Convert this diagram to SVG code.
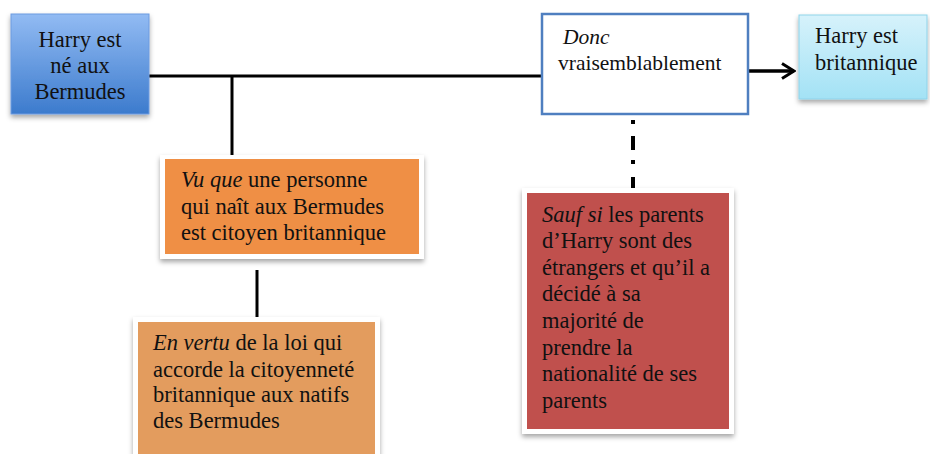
<svg xmlns="http://www.w3.org/2000/svg" width="930" height="454" viewBox="0 0 930 454">
<defs>
<linearGradient id="gBlue" x1="0" y1="0" x2="0" y2="1"><stop offset="0" stop-color="#92bbf3"/><stop offset="1" stop-color="#3c7bcd"/></linearGradient>
<linearGradient id="gCyan" x1="0" y1="0" x2="0" y2="1"><stop offset="0" stop-color="#d6f2fb"/><stop offset="1" stop-color="#a3e2f5"/></linearGradient>
<filter id="sh" x="-10%" y="-10%" width="130%" height="140%"><feDropShadow dx="0" dy="3" stdDeviation="2.5" flood-color="#000" flood-opacity="0.35"/></filter>
<marker id="arr" viewBox="0 0 16 18" refX="14" refY="9" markerWidth="16" markerHeight="18" markerUnits="userSpaceOnUse" orient="auto"><path d="M2,1.5 L14,9 L2,16.5" fill="none" stroke="#000" stroke-width="3" stroke-linejoin="miter"/></marker>
<style>
text{font-family:"Liberation Serif","Times New Roman",serif;font-size:22.5px;fill:#111}
.i{font-style:italic}
.c{text-anchor:middle}
.frame{fill:#fff}
.ln{stroke:#000;stroke-width:3;fill:none}
</style>
</defs>
<g id="connectors">
<line class="ln" x1="148" y1="76" x2="541" y2="76"/>
<line class="ln" x1="232" y1="75" x2="232" y2="158"/>
<line class="ln" x1="257" y1="270" x2="257" y2="322"/>
<line x1="749" y1="71" x2="794" y2="71" stroke="#000" stroke-width="3.5" marker-end="url(#arr)"/>
<path d="M633,120 v4 M633,136 v14 M633,160 v4 M633,177 v15" stroke="#000" stroke-width="4" fill="none"/>
</g>
<g id="n1">
<rect x="11" y="14" width="138" height="100" fill="url(#gBlue)" stroke="#6d9be0" stroke-width="1" filter="url(#sh)"/>
<text class="c" x="80" y="47">Harry est</text>
<text class="c" x="80" y="73">né aux</text>
<text class="c" x="80" y="99">Bermudes</text>
</g>
<g id="n2">
<rect x="542" y="14" width="206" height="100" fill="#fff" stroke="#4f7fc0" stroke-width="2.5"/>
<text class="i" x="563" y="44" style="font-size:21.5px">Donc</text>
<text x="558" y="70" style="font-size:21.5px">vraisemblablement</text>
</g>
<g id="n3">
<rect x="799" y="15" width="128" height="84" fill="url(#gCyan)" stroke="#8fd3ea" stroke-width="1" filter="url(#sh)"/>
<text x="815" y="43">Harry est</text>
<text x="815" y="70">britannique</text>
</g>
<g id="n4">
<rect class="frame" x="160" y="155" width="264" height="104" filter="url(#sh)"/>
<rect x="165" y="159" width="254" height="95" fill="#ef8f45"/>
<text x="181" y="187"><tspan class="i">Vu que</tspan> une personne</text>
<text x="181" y="214">qui naît aux Bermudes</text>
<text x="181" y="240">est citoyen britannique</text>
</g>
<g id="n5">
<rect class="frame" x="133" y="317" width="247" height="145" filter="url(#sh)"/>
<rect x="138" y="322" width="237" height="140" fill="#e39c5e"/>
<text x="153" y="350"><tspan class="i">En vertu</tspan> de la loi qui</text>
<text x="153" y="377">accorde la citoyenneté</text>
<text x="153" y="402">britannique aux natifs</text>
<text x="153" y="428">des Bermudes</text>
</g>
<g id="n6">
<rect class="frame" x="522" y="188" width="212" height="246" filter="url(#sh)"/>
<rect x="527" y="193" width="202" height="236" fill="#c0504d"/>
<text x="542" y="222"><tspan class="i">Sauf si</tspan> les parents</text>
<text x="542" y="248">d’Harry sont des</text>
<text x="542" y="275">étrangers et qu’il a</text>
<text x="542" y="301">décidé à sa</text>
<text x="542" y="328">majorité de</text>
<text x="542" y="355">prendre la</text>
<text x="542" y="381">nationalité de ses</text>
<text x="542" y="408">parents</text>
</g>
</svg>
